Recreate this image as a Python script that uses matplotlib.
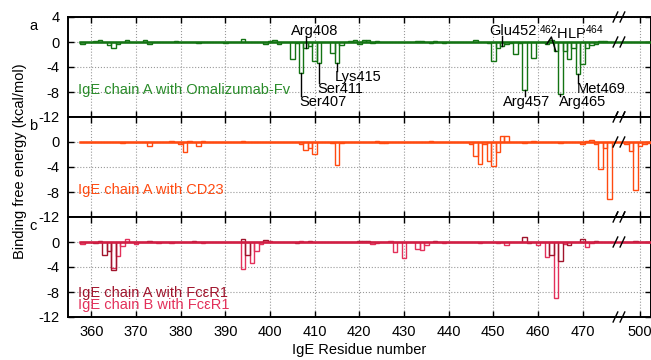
import numpy as np
import matplotlib
matplotlib.use('Agg')
import matplotlib.pyplot as plt

plt.rcParams['font.family'] = ['Liberation Sans', 'DejaVu Sans']
plt.rcParams['mathtext.fontset'] = 'custom'
plt.rcParams['mathtext.rm'] = 'Liberation Sans'
plt.rcParams['mathtext.it'] = 'Liberation Sans'
plt.rcParams['axes.unicode_minus'] = False
plt.rcParams['font.size'] = 10.5

# residues shown; 477-495 are cut out by the axis break
residues = list(range(358, 477)) + list(range(496, 503))

# binding free energy per residue (kcal/mol)
omalizumab = [
    -0.3, 0.0, 0.0, 0.2, 0.4, 0.0, -0.4, -0.9, -0.3, 0.0,
    0.4, 0.0, 0.0, 0.0, 0.4, -0.3, 0.0, 0.0, 0.0, 0.0,
    0.0, 0.1, 0.0, 0.0, 0.0, 0.0, -0.1, 0.0, 0.0, 0.0,
    0.0, 0.0, -0.1, 0.0, 0.0, 0.0, 0.5, 0.0, 0.0, 0.0,
    0.0, -0.3, 0.1, 0.3, -0.3, 0.0, 0.0, -2.7, -0.2, -4.9,
    -1.0, -0.6, -3.1, -3.3, 0.0, 0.0, -1.8, -3.4, -0.4, 0.0,
    0.2, 0.3, -0.3, 0.3, 0.3, -0.2, 0.1, 0.0, 0.0, 0.0,
    0.0, 0.0, 0.0, 0.0, 0.0, 0.2, 0.2, 0.0, -0.2, 0.2,
    0.0, -0.2, 0.0, 0.0, 0.0, 0.0, 0.0, 0.0, 0.4, 0.0,
    0.0, -0.2, -3.0, -1.0, -0.6, -0.3, -0.2, -1.9, -0.2, -7.7,
    0.0, -2.6, 0.0, 0.0, -0.3, 0.3, -1.5, -8.3, -1.5, -2.8,
    -1.0, -5.1, -3.5, -1.0, -0.4, -0.3, 0.2, 0.1, 0.0,
    0.0, 0.0, 0.0, 0.0, 0.0, 0.0, 0.0,
]
cd23 = [
    0.0, 0.0, 0.0, 0.0, 0.0, 0.0, 0.0, 0.0, 0.0, -0.1,
    0.0, 0.0, 0.0, 0.0, 0.0, -0.7, 0.0, 0.0, 0.0, 0.0,
    0.1, 0.0, -0.3, -1.6, 0.1, 0.0, -0.6, 0.2, 0.0, 0.0,
    0.0, 0.0, 0.0, 0.0, 0.0, 0.0, 0.1, 0.0, 0.0, 0.0,
    0.0, 0.0, 0.0, 0.0, 0.0, 0.0, 0.0, 0.0, 0.0, -0.3,
    -1.3, -0.9, -1.9, 0.0, 0.0, 0.0, -0.1, -3.7, -0.1, 0.0,
    0.0, 0.0, 0.0, 0.0, 0.0, 0.0, 0.2, -0.1, -0.1, 0.0,
    0.0, 0.0, 0.0, 0.0, 0.0, 0.0, 0.0, 0.0, 0.1, 0.0,
    0.0, 0.0, 0.0, 0.0, 0.0, 0.0, 0.0, -0.4, -2.3, -3.5,
    -0.4, -3.0, -3.9, -1.6, 1.0, 1.0, 0.0, 0.0, 0.0, -0.2,
    0.0, 0.1, 0.0, 0.0, 0.0, 0.0, 0.0, -0.1, 0.0, 0.0,
    0.0, 0.0, -0.3, 0.1, 0.3, -0.4, -4.4, -1.0, -9.1,
    0.0, -0.3, -1.5, -7.6, -0.6, -0.3, -0.1,
]
fcer1_a = [
    0.0, 0.0, 0.0, -0.2, 0.1, -2.0, -1.5, -4.5, 0.0, 0.0,
    0.0, 0.0, 0.0, 0.0, 0.0, 0.1, 0.0, 0.0, 0.0, 0.0,
    0.0, 0.0, 0.0, 0.0, 0.0, 0.1, 0.0, 0.0, 0.0, 0.0,
    0.0, 0.0, 0.0, 0.0, 0.0, 0.0, 0.5, -2.1, 0.0, 0.0,
    0.0, 0.4, 0.0, 0.0, 0.0, 0.0, 0.0, 0.0, -0.1, 0.0,
    0.0, 0.1, 0.0, 0.0, 0.0, 0.0, 0.0, 0.0, 0.0, 0.0,
    0.0, 0.0, 0.2, 0.2, 0.2, 0.0, 0.0, 0.0, 0.0, 0.0,
    0.0, 0.0, 0.0, 0.0, 0.0, 0.0, 0.0, 0.0, 0.0, 0.2,
    0.0, 0.0, 0.0, 0.0, 0.0, 0.0, 0.0, 0.0, 0.0, 0.0,
    0.0, 0.0, 0.0, 0.0, 0.0, 0.0, 0.0, 0.0, 0.0, 0.8,
    -0.2, 0.0, 0.0, 0.0, 0.0, -2.0, 0.0, -3.1, 0.0, -0.4,
    0.0, 0.0, 0.5, 0.0, 0.0, 0.1, 0.0, 0.0, 0.0,
    0.0, 0.0, 0.0, 0.1, 0.0, 0.0, 0.0,
]
fcer1_b = [
    -0.3, 0.0, 0.0, 0.0, 0.0, 0.0, 0.0, -4.2, -2.2, -0.7,
    0.5, 0.0, -0.3, 0.0, 0.0, 0.0, 0.0, -0.1, 0.0, 0.0,
    -0.1, 0.0, 0.0, 0.0, 0.0, 0.0, 0.0, -0.2, 0.0, 0.0,
    0.0, 0.0, 0.0, 0.0, 0.0, 0.0, -4.3, 0.0, -3.4, -1.4,
    -0.3, 0.0, 0.1, 0.0, 0.0, 0.0, 0.0, 0.0, 0.0, 0.2,
    0.0, 0.0, 0.0, 0.0, 0.0, 0.0, 0.0, 0.0, 0.0, 0.0,
    0.0, 0.0, 0.0, 0.0, 0.0, -0.3, -0.2, 0.0, 0.0, 0.2,
    -1.6, 0.0, -2.6, 0.0, 0.0, -1.1, -1.2, -0.4, 0.0, 0.0,
    0.0, -0.1, 0.0, 0.0, 0.0, 0.0, 0.0, 0.0, 0.0, -0.1,
    0.0, 0.0, 0.0, -0.2, 0.0, -0.5, 0.0, 0.0, 0.0, 0.0,
    0.0, 0.0, -0.4, 0.0, -2.4, 0.0, -8.9, 0.0, -0.3, 0.0,
    0.0, 0.0, 0.0, -0.8, -0.2, 0.0, 0.0, 0.0, 0.0,
    0.0, 0.0, 0.0, 0.0, 0.0, 0.0, 0.0,
]

xticks = [360, 370, 380, 390, 400, 410, 420, 430, 440, 450, 460, 470, 500]

# hot-spot labels in panel a: text, residue, text x, text y, alignment, line end
hotspots = [
    ('Arg408', 408, 410.1, 1.75, 'center', 0.9),
    ('Ser407', 407, 406.6, -9.6, 'left', -8.7),
    ('Ser411', 411, 410.6, -7.5, 'left', -6.6),
    ('Lys415', 415, 414.6, -5.6, 'left', -4.7),
    ('Glu452', 452, 454.3, 1.75, 'center', 0.9),
    ('Arg457', 457, 457.4, -9.6, 'center', -8.7),
    ('Arg465', 465, 464.6, -9.6, 'left', -8.7),
    ('Met469', 469, 468.6, -7.5, 'left', -6.6),
]


# broken x axis: 478..496 squeezed into a small gap
def fwd(x):
    return np.interp(x, [-1e6, 478, 496, 1e6], [-1e6, 478, 478.8, 1e6 - 17.2])


def inv(x):
    return np.interp(x, [-1e6, 478, 478.8, 1e6 - 17.2], [-1e6, 478, 496, 1e6])


def break_marks(ax):
    for xb in (0.939, 0.951):
        for yb in (0.0, 0.75, 1.0):
            ax.plot([xb - 0.004, xb + 0.004], [yb - 0.05, yb + 0.05], color='black',
                    lw=1, transform=ax.transAxes, clip_on=False, zorder=6)


def setup(ax, letter, yticks, bottom=False):
    ax.set_xscale('function', functions=(fwd, inv))
    ax.set_xlim(354.8, 502.5)
    ax.set_ylim(-12, 4)
    ax.set_xticks(xticks)
    ax.set_yticks(yticks)
    ax.set_yticklabels([str(t) for t in yticks])
    ax.minorticks_off()
    ax.grid(True, linestyle=':', color='#999999', lw=0.8)
    ax.set_axisbelow(True)
    ax.tick_params(direction='in', top=True, right=True, length=4, width=1, pad=6,
                   labelbottom=bottom)
    for s in ax.spines.values():
        s.set_linewidth(1.4)
    ax.text(-0.06, 0.91, letter, transform=ax.transAxes, ha='center', va='center')
    break_marks(ax)


def draw(ax, series, colors, line_color):
    for vals, col in zip(series, colors):
        ax.bar(residues, vals, width=1, fill=False, edgecolor=col, linewidth=1.0, zorder=3)
    ax.plot([residues[0] - 0.5, residues[-1] + 0.5], [0, 0], color=line_color, lw=1.8, zorder=4)


fig = plt.figure(figsize=(6.51, 3.6), dpi=100)
h = 100 / 360
axa = fig.add_axes([0.1045, 1 - 117 / 360, 0.8955, h])
axb = fig.add_axes([0.1045, 1 - 217 / 360, 0.8955, h])
axc = fig.add_axes([0.1045, 1 - 317 / 360, 0.8955, h])

green, green_txt = '#137313', '#2a8c2a'
orange = '#ff4a10'
dark_red, crimson = '#a0142c', '#e3305a'

draw(axa, [omalizumab], [green], green)
draw(axb, [cd23], [orange], orange)
draw(axc, [fcer1_b, fcer1_a], [crimson, dark_red], '#d21e44')

setup(axa, 'a', [4, 0, -4, -8, -12])
setup(axb, 'b', [0, -4, -8, -12])
setup(axc, 'c', [0, -4, -8, -12], bottom=True)

axa.text(0.017, 0.27, 'IgE chain A with Omalizumab-Fv', color=green_txt,
         transform=axa.transAxes, va='center')
axb.text(0.017, 0.27, 'IgE chain A with CD23', color=orange,
         transform=axb.transAxes, va='center')
axc.text(0.017, 0.245, 'IgE chain A with FcεR1', color=dark_red,
         transform=axc.transAxes, va='center')
axc.text(0.017, 0.115, 'IgE chain B with FcεR1', color=crimson,
         transform=axc.transAxes, va='center')

vals_a = dict(zip(residues, omalizumab))
for name, res, tx, ty, ha, yend in hotspots:
    axa.plot([res, res], [vals_a[res], yend], color='black', lw=1, zorder=5)
    axa.text(tx, ty, name, ha=ha, va='center', zorder=5)

# 462-HLP-464 motif
axa.plot([462, 463, 464], [vals_a[462], 0.8, vals_a[464]], color='black', lw=1, zorder=5)
axa.text(467.6, 1.5, r'$^{462}$HLP$^{464}$', ha='center', va='center', zorder=5)

fig.text(0.031, 0.553, 'Binding free energy (kcal/mol)', rotation=90, ha='center', va='center')
fig.text(0.552, 0.028, 'IgE Residue number', ha='center', va='center')

fig.savefig('out.png', dpi=100)
